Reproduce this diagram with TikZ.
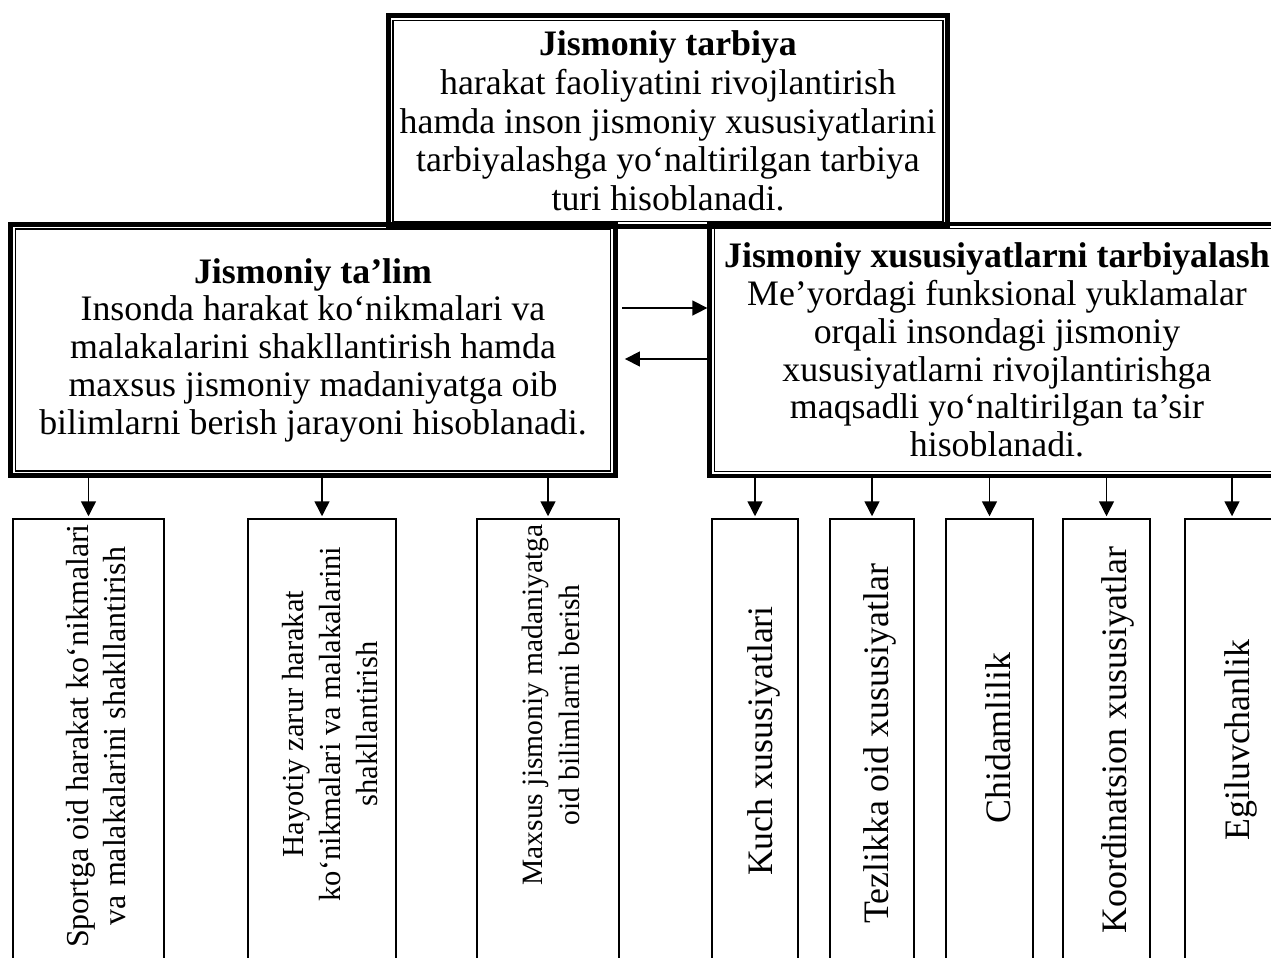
\documentclass[tikz,border=0pt]{standalone}
\usepackage{fontspec}
\setmainfont{Liberation Serif}
\usetikzlibrary{arrows.meta}

\begin{document}
\begin{tikzpicture}[x=0.02cm, y=-0.02cm,
  font=\fontsize{20.4}{21.5}\selectfont,
  bigbox/.style={draw, line width=2.8pt, align=center, inner sep=0pt},
  innerline/.style={line width=0.75pt},
  leaf/.style={draw, line width=1.4pt, anchor=north, minimum height=9cm, inner sep=0pt},
  leaftext/.style={rotate=90, align=center, inner sep=0pt},
  small/.style={font=\fontsize{#1}{21}\selectfont},
  arr/.style={line width=0.85pt, -{Triangle[length=8.5pt,width=8.5pt]}}]
% page size
\useasboundingbox (0,0) rectangle (1271,957);
% top box
\node[bigbox, minimum width=11.19cm, minimum height=4.22cm, font=\fontsize{20.4}{22}\selectfont] (tarbiya) at (668,121)
  {\textbf{Jismoniy tarbiya}\\harakat faoliyatini rivojlantirish\\hamda inson jismoniy xususiyatlarini\\tarbiyalashga yo‘naltirilgan tarbiya\\turi hisoblanadi.};
% left box
\node[bigbox, minimum width=12.1cm, minimum height=5.03cm] (talim) at (313,350)
  {\textbf{Jismoniy ta’lim}\\Insonda harakat ko‘nikmalari va\\malakalarini shakllantirish hamda\\maxsus jismoniy madaniyatga oib\\bilimlarni berish jarayoni hisoblanadi.};
% right box, runs off the page
\node[bigbox, minimum width=11.49cm, minimum height=5.04cm] (xusus) at (997,350)
  {\textbf{Jismoniy xususiyatlarni tarbiyalash}\\Me’yordagi funksional yuklamalar\\orqali insondagi jismoniy\\xususiyatlarni rivojlantirishga\\maqsadli yo‘naltirilgan ta’sir\\hisoblanadi.};
% thin inner line of the thick frames
\foreach \b in {tarbiya,talim,xusus}
  \draw[innerline] ([shift={(4.1pt,-4.1pt)}]\b.north west) rectangle ([shift={(-4.1pt,4.1pt)}]\b.south east);
% arrows between the two boxes
\draw[arr, shorten <=2.5pt] ([yshift=0.84cm]talim.east) -- ([yshift=0.84cm]xusus.west);
\draw[arr, shorten >=4pt] ([yshift=-0.18cm]xusus.west) -- ([yshift=-0.18cm]talim.east);
% lower boxes, they run off the page
\node[leaf, minimum width=3.02cm] (l1) at (88.5,518) {};
\node[leaf, minimum width=2.96cm] (l2) at (322,518) {};
\node[leaf, minimum width=2.84cm] (l3) at (548,518) {};
\node[leaf, minimum width=1.72cm] (l4) at (755,518) {};
\node[leaf, minimum width=1.68cm] (l5) at (872,518) {};
\node[leaf, minimum width=1.74cm] (l6) at (989.5,518) {};
\node[leaf, minimum width=1.74cm] (l7) at (1106.5,518) {};
\node[leaf, minimum width=1.88cm] (l8) at (1232,518) {};
% turned texts
\node[leaftext, small=18.2] (t1) at (96,736) {Sportga oid harakat ko‘nikmalari\\va malakalarini shakllantirish};
\node[leaftext, small=17.4] (t2) at (330,724) {Hayotiy zarur harakat\\ko‘nikmalari va malakalarini\\shakllantirish};
\node[leaftext, small=16.8] (t3) at (551,705) {Maxsus jismoniy madaniyatga\\oid bilimlarni berish};
\node[leaftext] (t4) at (764,741) {Kuch xususiyatlari};
\node[leaftext] (t5) at (880,744) {Tezlikka oid xususiyatlar};
\node[leaftext] (t6) at (998,738) {Chidamlilik};
\node[leaftext] (t7) at (1118,740) {Koordinatsion xususiyatlar};
\node[leaftext] (t8) at (1241,740) {Egiluvchanlik};
% arrows down
\foreach \l in {l1,l2,l3}
  \draw[arr, shorten >=1pt] (talim.south -| \l) -- (\l.north);
\foreach \l in {l4,l5,l6,l7,l8}
  \draw[arr, shorten >=1pt] (xusus.south -| \l) -- (\l.north);
\end{tikzpicture}
\end{document}
